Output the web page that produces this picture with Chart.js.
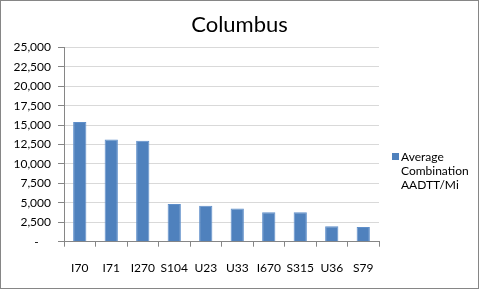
<!DOCTYPE html>
<html>
<head>
<meta charset="utf-8">
<script src="https://cdn.jsdelivr.net/npm/chart.js@4.4.0/dist/chart.umd.min.js"></script>
<style>
  html, body { margin: 0; padding: 0; background: #fff; }
  #box { width: 477px; height: 287px; border: 1px solid #868686; position: relative; }
</style>
</head>
<body>
<div id="box"><canvas id="myChart" width="477" height="287"></canvas></div>
<script>
// values
const roads = ['I70', 'I71', 'I270', 'S104', 'U23', 'U33', 'I670', 'S315', 'U36', 'S79'];
const aadtt = [15400, 13150, 12990, 4840, 4620, 4270, 3800, 3790, 1990, 1900];
const seriesName = ['Average', 'Combination', 'AADTT/Mi'];
const yMax = 25000;
const yStep = 2500;

const fontName = 'Lato, "Liberation Sans", sans-serif';

// legend drawn by hand because the label wraps on three lines
const sideLegend = {
  id: 'sideLegend',
  afterDraw(chart) {
    const ctx = chart.ctx;
    const ds = chart.data.datasets[0];
    const x = chart.chartArea.right + 13;
    const y = 156;
    ctx.save();
    ctx.fillStyle = ds.backgroundColor;
    ctx.fillRect(x, y - 4, 7, 7);
    ctx.fillStyle = '#000';
    ctx.font = '12px ' + fontName;
    ctx.textBaseline = 'middle';
    ds.label.forEach((line, i) => {
      ctx.fillText(line, x + 9, y + i * 14);
    });
    ctx.restore();
  }
};

const ctx = document.getElementById('myChart').getContext('2d');
const myChart = new Chart(ctx, {
  type: 'bar',
  data: {
    labels: roads,
    datasets: [{
      label: seriesName,
      data: aadtt,
      backgroundColor: '#4f81bd',
      borderColor: '#5f8fca',
      borderWidth: 1,
      barPercentage: 0.42,
      categoryPercentage: 1
    }]
  },
  options: {
    responsive: false,
    animation: false,
    layout: { padding: { left: 0, right: 0, top: 2, bottom: 0 } },
    plugins: {
      legend: { display: false },
      tooltip: { enabled: false },
      title: {
        display: true,
        text: 'Columbus',
        color: '#000',
        font: { family: fontName, size: 22, weight: 'normal', lineHeight: 1.2 },
        padding: { top: 9, bottom: 9 }
      }
    },
    scales: {
      x: {
        grid: { display: true, drawOnChartArea: false, drawTicks: true, tickLength: 5, color: '#868686', offset: true },
        border: { color: '#868686' },
        ticks: { color: '#000', font: { family: fontName, size: 12 }, padding: 14, maxRotation: 0 },
        afterFit(scale) { scale.height = 46.3; }
      },
      y: {
        min: 0,
        max: yMax,
        grid: { color: '#d9d9d9', tickLength: 6, tickColor: '#868686' },
        border: { color: '#868686' },
        ticks: {
          stepSize: yStep,
          color: '#000',
          font: { family: fontName, size: 12 },
          padding: 7,
          callback: v => v === 0 ? '-    ' : v.toLocaleString('en-US')
        },
        afterFit(scale) { scale.width = 63; }
      },
      // empty axis that only keeps room for the legend on the right
      side: {
        position: 'right',
        display: true,
        grid: { display: false },
        border: { display: false },
        ticks: { display: false },
        afterFit(scale) { scale.width = 99; }
      }
    }
  },
  plugins: [sideLegend]
});
</script>
</body>
</html>
